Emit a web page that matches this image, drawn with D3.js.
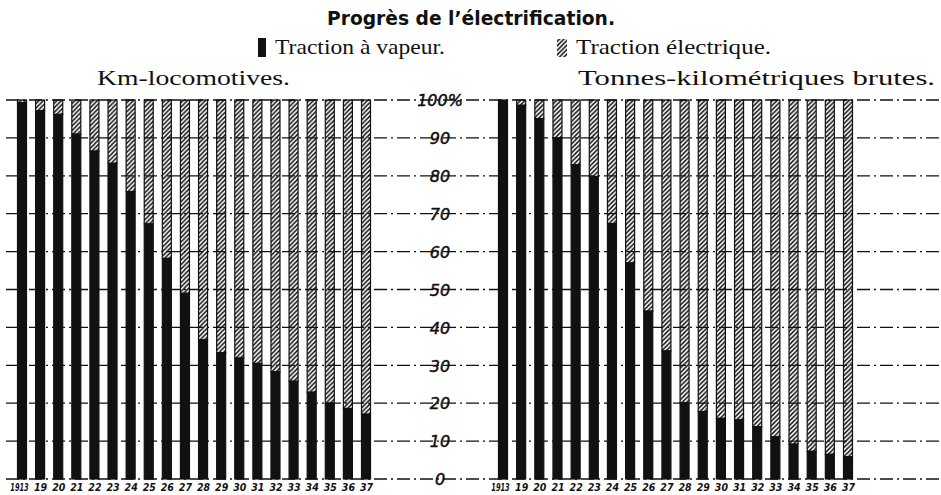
<!DOCTYPE html>
<html>
<head>
<meta charset="utf-8">
<script src="https://cdn.jsdelivr.net/npm/d3@7"></script>
<style>
	body { margin:0; background:#fff; }
	svg { display:block; }
	.serif { font-family:"Liberation Serif","DejaVu Serif",serif; fill:#111; }
	.ticks text { font-family:"DejaVu Sans",sans-serif; font-style:italic; fill:#111; }
	.years text { font-family:"DejaVu Sans Condensed","DejaVu Sans",sans-serif; font-style:italic; font-weight:bold; fill:#111; }
</style>
</head>
<body>
<svg id="chart" width="941" height="495"></svg>
<script>
var years = ['1913','19','20','21','22','23','24','25','26','27','28','29','30','31','32','33','34','35','36','37']
// share of steam traction in %, the rest is electric
var km_steam = [99.3,97.2,96.2,91,86.5,83.3,75.8,67.3,58.2,49,36.7,33.3,31.9,30.5,28.3,25.8,22.9,20,18.6,17.1]
var tkm_steam = [100,98.6,95.1,90,82.9,79.8,67.4,57,44.3,33.8,20.1,17.8,16,15.6,13.8,11.1,9.2,7.3,6.5,5.9]
var tick_values = [0,10,20,30,40,50,60,70,80,90,100]

var svg = d3.select('#chart')

var defs = svg.append('defs')
defs.append('pattern')
	.attr('id','hatch')
	.attr('patternUnits','userSpaceOnUse')
	.attr('width',4.5)
	.attr('height',4.5)
	.append('path')
	.attr('d','M-1,1 l2,-2 M0,4.5 l4.5,-4.5 M3.5,5.5 l2,-2')
	.attr('stroke','#111')
	.attr('stroke-width',1.5)

var y = d3.scaleLinear().domain([0,100]).range([479,100])

// gridlines, dash-dot, running right across the page
svg.append('g')
	.selectAll('line')
	.data(tick_values)
	.join('line')
	.attr('x1',6)
	.attr('x2',941)
	.attr('y1',function(d){ return y(d) })
	.attr('y2',function(d){ return y(d) })
	.attr('stroke','#111')
	.attr('stroke-width',1.3)
	.attr('stroke-dasharray','13,4,2,4')

// percentage labels in the middle
var axis = svg.append('g')
	.attr('class','ticks')
	.attr('transform','translate(440,0)')
	.call(d3.axisLeft(y)
		.tickValues(tick_values)
		.tickSize(0)
		.tickFormat(function(d){ return d === 100 ? '100%' : d }))
axis.select('.domain').remove()
axis.selectAll('text')
	.attr('x',0)
	.attr('dy','0.36em')
	.attr('text-anchor','middle')
	.style('font-size','16px')
	.style('stroke','#111')
	.style('stroke-width',0.5)

function drawPanel(values, x0, x1) {
	var x = d3.scalePoint().domain(years).range([x0,x1])
	var w = 9
	var g = svg.append('g')
	var bars = g.selectAll('g.bar')
		.data(values)
		.join('g')
		.attr('class','bar')
	// electric part on top, hatched
	bars.append('rect')
		.attr('x',function(d,i){ return x(years[i]) - w/2 })
		.attr('y',y(100))
		.attr('width',w)
		.attr('height',function(d){ return y(d) - y(100) })
		.attr('fill','url(#hatch)')
		.attr('stroke','#111')
		.attr('stroke-width',1.2)
	// steam part, solid black
	bars.append('rect')
		.attr('x',function(d,i){ return x(years[i]) - w/2 })
		.attr('y',function(d){ return y(d) })
		.attr('width',w)
		.attr('height',function(d){ return y(0) - y(d) })
		.attr('fill','#111')
		.attr('stroke','#111')
		.attr('stroke-width',1.2)
	var ax = svg.append('g')
		.attr('class','years')
		.attr('transform','translate(0,'+(y(0)+2)+')')
		.call(d3.axisBottom(x).tickSize(0))
	ax.select('.domain').remove()
	ax.selectAll('text')
		.attr('y',3)
		.attr('dy','0.71em')
		.style('font-size','10.5px')
		.each(function(d){
			// the first label is squeezed in the original
			if (d === '1913') {
				d3.select(this).attr('transform','translate(-3,0) scale(0.7,1)')
			}
		})
}

drawPanel(km_steam, 22, 366)
drawPanel(tkm_steam, 503, 848)

// titles and legend
svg.append('text')
	.attr('x',471)
	.attr('y',25)
	.attr('text-anchor','middle')
	.attr('textLength',288)
	.attr('lengthAdjust','spacingAndGlyphs')
	.style('font-family','"DejaVu Sans Condensed","DejaVu Sans",sans-serif')
	.style('font-weight','bold')
	.style('font-size','19px')
	.style('fill','#111')
	.text('Progrès de l\u2019électrification.')

svg.append('rect')
	.attr('x',258).attr('y',38)
	.attr('width',8).attr('height',19)
	.attr('fill','#111')
svg.append('text')
	.attr('class','serif')
	.attr('x',275)
	.attr('y',54)
	.attr('textLength',170)
	.attr('lengthAdjust','spacingAndGlyphs')
	.style('font-size','22px')
	.text('Traction à vapeur.')

svg.append('rect')
	.attr('x',557).attr('y',39)
	.attr('width',10).attr('height',18)
	.attr('fill','url(#hatch)')
svg.append('text')
	.attr('class','serif')
	.attr('x',576)
	.attr('y',54)
	.attr('textLength',195)
	.attr('lengthAdjust','spacingAndGlyphs')
	.style('font-size','22px')
	.text('Traction électrique.')

svg.append('text')
	.attr('class','serif')
	.attr('x',97)
	.attr('y',85)
	.attr('textLength',193)
	.attr('lengthAdjust','spacingAndGlyphs')
	.style('font-size','21px')
	.text('Km-locomotives.')

svg.append('text')
	.attr('class','serif')
	.attr('x',578)
	.attr('y',85)
	.attr('textLength',357)
	.attr('lengthAdjust','spacingAndGlyphs')
	.style('font-size','21px')
	.text('Tonnes-kilométriques brutes.')
</script>
</body>
</html>
